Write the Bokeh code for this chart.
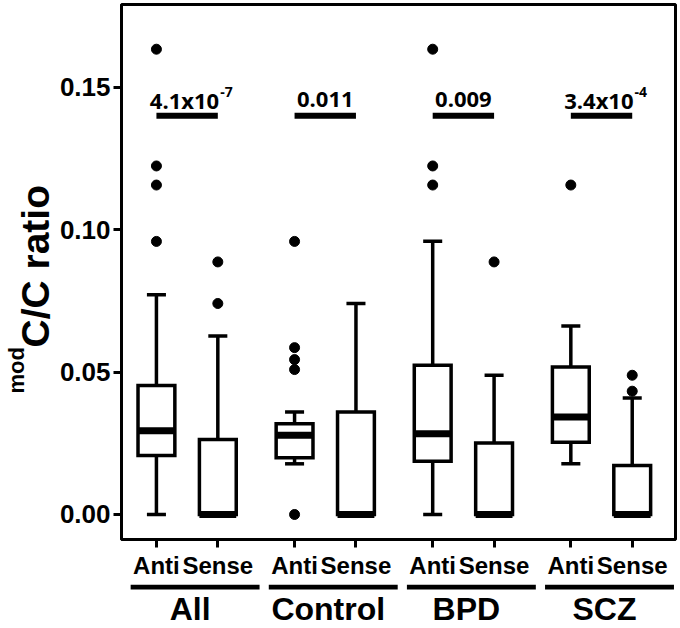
import math
from bokeh.plotting import figure
from bokeh.layouts import row, column
from bokeh.models import ColumnDataSource, FixedTicker, NumeralTickFormatter, Range1d, Label
from bokeh.core.properties import value
from bokeh.embed import file_html
from bokeh.resources import INLINE

# ---------------- data ----------------
groups = ["All", "Control", "BPD", "SCZ"]
strands = ["Anti", "Sense"]

# order: All-Anti, All-Sense, Control-Anti, Control-Sense, BPD-Anti, BPD-Sense, SCZ-Anti, SCZ-Sense
lower = [0.0, 0.0, 0.0178, 0.0, 0.0, 0.0, 0.0178, 0.0]
q1 = [0.0207, 0.0, 0.0199, 0.0, 0.0187, 0.0, 0.0254, 0.0]
median = [0.0294, 0.0, 0.0278, 0.0, 0.0284, 0.0, 0.0342, 0.0]
q3 = [0.0453, 0.0263, 0.0319, 0.0360, 0.0524, 0.0251, 0.0518, 0.0172]
upper = [0.0772, 0.0627, 0.0360, 0.0741, 0.0960, 0.0489, 0.0662, 0.0409]
outliers = [
    [0.1634, 0.1224, 0.1157, 0.0959],
    [0.0887, 0.0741],
    [0.0959, 0.0586, 0.0544, 0.0509, 0.0],
    [],
    [0.1634, 0.1224, 0.1157],
    [0.0887],
    [0.1157],
    [0.0489, 0.0433],
]
p_main = ["4.1x10", "0.011", "0.009", "3.4x10"]
p_exp = ["-7", "", "", "-4"]
sig_y = 0.14
y_ticks = [0.0, 0.05, 0.10, 0.15]
y_title = "C/C ratio"
y_title_sup = "mod"

# ---------------- layout helpers ----------------
group_step = len(strands) + 0.25
pos = [gi * group_step + si for gi in range(len(groups)) for si in range(len(strands))]
labels = [s for g in groups for s in strands]
anti_pos = [pos[gi * 2] for gi in range(len(groups))]
sense_pos = [pos[gi * 2 + 1] for gi in range(len(groups))]
centers = [(a + b) / 2 for a, b in zip(anti_pos, sense_pos)]

bw = 0.6
cw = 0.31
ax_font = "Liberation Sans"

LEFT_W = 56
MAIN_W = 624
MAIN_H = 584
BOT_H = 44

xr = Range1d(-0.569, 8.455)

p = figure(width=MAIN_W, height=MAIN_H, output_backend="svg", toolbar_location=None,
           x_range=xr, y_range=Range1d(-0.00878, 0.1791),
           min_border_left=64, min_border_right=5, min_border_top=4, min_border_bottom=45)
p.xgrid.visible = False
p.ygrid.visible = False
p.outline_line_color = "black"
p.outline_line_width = 3
p.background_fill_color = "white"
p.border_fill_color = "white"

src = ColumnDataSource(dict(
    x=pos, left=[x - bw / 2 for x in pos], right=[x + bw / 2 for x in pos],
    cl=[x - cw / 2 for x in pos], cr=[x + cw / 2 for x in pos],
    lower=lower, q1=q1, median=median, q3=q3, upper=upper))

# whiskers
p.segment(x0="x", y0="q3", x1="x", y1="upper", source=src, line_color="black", line_width=3.5)
p.segment(x0="x", y0="lower", x1="x", y1="q1", source=src, line_color="black", line_width=3.5)
# caps
p.segment(x0="cl", y0="upper", x1="cr", y1="upper", source=src, line_color="black", line_width=3.5)
p.segment(x0="cl", y0="lower", x1="cr", y1="lower", source=src, line_color="black", line_width=3.5)
# boxes
p.quad(left="left", right="right", bottom="q1", top="q3", source=src,
       fill_color="white", line_color="black", line_width=3.5, line_join="miter")
# medians
p.segment(x0="left", y0="median", x1="right", y1="median", source=src,
          line_color="black", line_width=7)

# outliers
ox = [pos[i] for i, lst in enumerate(outliers) for _ in lst]
oy = [v for lst in outliers for v in lst]
p.scatter(ox, oy, size=10, color="black")

# significance bars and p-values
p.segment(x0=anti_pos, y0=[sig_y] * 4, x1=sense_pos, y1=[sig_y] * 4,
          line_color="black", line_width=6)
plain = [i for i, e in enumerate(p_exp) if e == ""]
sci = [i for i, e in enumerate(p_exp) if e != ""]
pfont = value("Open Sans")
p.text(x=[centers[i] for i in plain], y=[sig_y] * len(plain), text=[p_main[i] for i in plain],
       text_align="center", text_baseline="alphabetic", y_offset=-16,
       text_font=pfont, text_font_style="bold", text_font_size="22px", text_color="black")
p.text(x=[centers[i] for i in sci], y=[sig_y] * len(sci), text=[p_main[i] for i in sci],
       text_align="right", text_baseline="alphabetic", x_offset=32, y_offset=-16,
       text_font=pfont, text_font_style="bold", text_font_size="22px", text_color="black")
p.text(x=[centers[i] for i in sci], y=[sig_y] * len(sci), text=[p_exp[i] for i in sci],
       text_align="left", text_baseline="alphabetic", x_offset=33, y_offset=-24,
       text_font=pfont, text_font_style="bold", text_font_size="14px", text_color="black")

# axes
p.yaxis.ticker = FixedTicker(ticks=y_ticks)
p.yaxis.formatter = NumeralTickFormatter(format="0.00")
p.yaxis.major_label_text_font = ax_font
p.yaxis.major_label_text_font_style = "bold"
p.yaxis.major_label_text_font_size = "26px"
p.yaxis.major_label_text_color = "black"
p.yaxis.major_label_standoff = 3
p.yaxis.major_tick_out = 8
p.yaxis.major_tick_in = 0
p.yaxis.minor_tick_out = 0
p.yaxis.minor_tick_in = 0
p.yaxis.major_tick_line_width = 3
p.yaxis.axis_line_width = 3

p.xaxis.ticker = FixedTicker(ticks=pos)
p.xaxis.major_label_overrides = {x: lab for x, lab in zip(pos, labels)}
p.xaxis.major_label_text_font = ax_font
p.xaxis.major_label_text_font_style = "bold"
p.xaxis.major_label_text_font_size = "24px"
p.xaxis.major_label_text_color = "black"
p.xaxis.major_label_standoff = 4
p.xaxis.major_tick_out = 8
p.xaxis.major_tick_in = 0
p.xaxis.minor_tick_out = 0
p.xaxis.minor_tick_in = 0
p.xaxis.major_tick_line_width = 3
p.xaxis.axis_line_width = 3

# ---------------- left strip: y-axis title with superscript ----------------
pl = figure(width=LEFT_W, height=MAIN_H, output_backend="svg", toolbar_location=None,
            x_range=Range1d(0, LEFT_W), y_range=Range1d(0, MAIN_H),
            x_axis_location=None, y_axis_location=None, title=None,
            min_border_left=0, min_border_right=0, min_border_top=0, min_border_bottom=0)
pl.grid.visible = False
pl.outline_line_color = None
pl.background_fill_color = "white"
pl.border_fill_color = "white"
pl.add_layout(Label(x=35, y=MAIN_H - 347, text=y_title, angle=math.pi / 2,
                    text_align="left", text_baseline="alphabetic",
                    text_font=ax_font, text_font_style="bold", text_font_size="39px",
                    text_color="black"))
pl.add_layout(Label(x=16, y=MAIN_H - 393, text=y_title_sup, angle=math.pi / 2,
                    text_align="left", text_baseline="alphabetic",
                    text_font=ax_font, text_font_style="bold", text_font_size="22px",
                    text_color="black"))

# ---------------- bottom strip: group underlines and names ----------------
pb = figure(width=MAIN_W, height=BOT_H, output_backend="svg", toolbar_location=None,
            x_range=xr, y_range=Range1d(0, BOT_H), title=None,
            x_axis_location=None, y_axis_location=None,
            min_border_left=64, min_border_right=5, min_border_top=0, min_border_bottom=0)
pb.grid.visible = False
pb.outline_line_color = None
pb.background_fill_color = "white"
pb.border_fill_color = "white"
pb.segment(x0=[a - 0.42 for a in anti_pos], y0=[BOT_H - 2.5] * 4,
           x1=[s + 0.68 for s in sense_pos], y1=[BOT_H - 2.5] * 4,
           line_color="black", line_width=5)
pb.text(x=centers, y=[20] * 4, text=groups, x_offset=3,
        text_align="center", text_baseline="alphabetic",
        text_font=value(ax_font), text_font_style="bold", text_font_size="32px", text_color="black")

layout = row(pl, column(p, pb))
open("out.html", "w").write(file_html(layout, INLINE))
